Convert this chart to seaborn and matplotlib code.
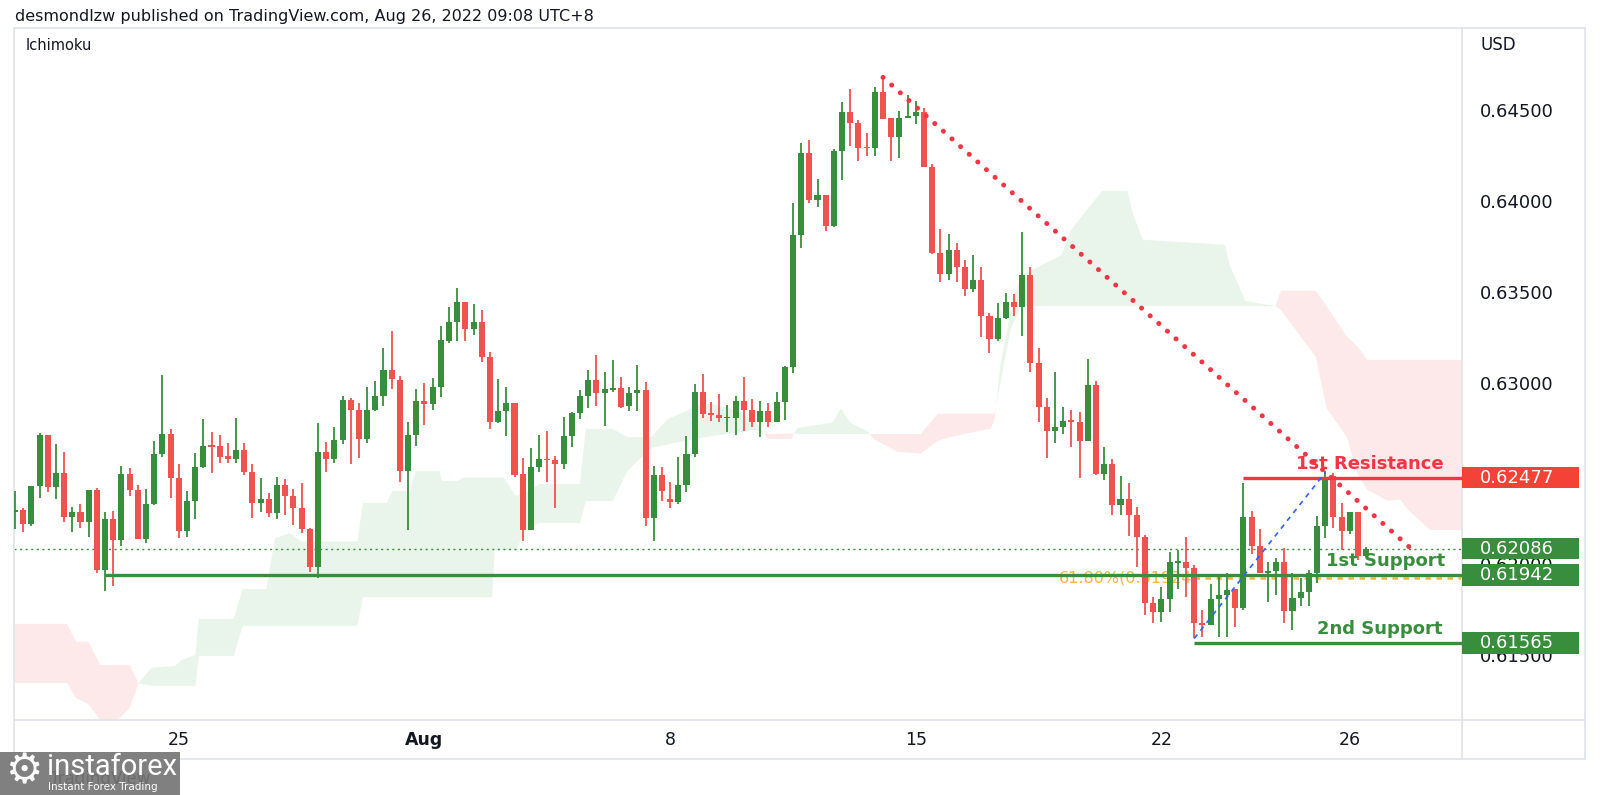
import numpy as np
import pandas as pd
import matplotlib
matplotlib.use("Agg")
import matplotlib.pyplot as plt
import matplotlib.transforms as mtransforms
from matplotlib.patches import Rectangle
from matplotlib.lines import Line2D
import seaborn as sns

sns.set_theme(style="white")
plt.rcParams['font.family'] = ['DejaVu Sans']

# ---------------- data (4H candles, AUDUSD-like) ----------------
opens = [0.62290, 0.62296, 0.62219, 0.62430, 0.62709, 0.62423, 0.62504, 0.62261, 0.62285, 0.62234,
         0.62406, 0.61966, 0.62247, 0.62135, 0.62498, 0.62406, 0.62140, 0.62331, 0.62606, 0.62715,
         0.62472, 0.62184, 0.62348, 0.62537, 0.62652, 0.62651, 0.62594, 0.62579, 0.62628, 0.62509,
         0.62335, 0.62359, 0.62283, 0.62436, 0.62377, 0.62311, 0.62192, 0.61986, 0.62619, 0.62577,
         0.62684, 0.62904, 0.62849, 0.62689, 0.62849, 0.62926, 0.63069, 0.63014, 0.62513, 0.62711,
         0.62898, 0.62882, 0.62977, 0.63229, 0.63333, 0.63445, 0.63293, 0.63333, 0.63139, 0.62781,
         0.62845, 0.62889, 0.62495, 0.62188, 0.62537, 0.62579, 0.62574, 0.62554, 0.62706, 0.62833,
         0.62926, 0.63014, 0.62944, 0.62961, 0.62968, 0.62871, 0.62941, 0.62959, 0.62253, 0.62491,
         0.62359, 0.62344, 0.62436, 0.62606, 0.62946, 0.62830, 0.62819, 0.62805, 0.62807, 0.62898,
         0.62849, 0.62785, 0.62845, 0.62785, 0.62893, 0.63087, 0.63812, 0.64266, 0.64005, 0.64036,
         0.63864, 0.64275, 0.64488, 0.64431, 0.64299, 0.64293, 0.64598, 0.64455, 0.64354, 0.64455,
         0.64468, 0.64490, 0.64189, 0.63715, 0.63596, 0.63733, 0.63638, 0.63515, 0.63565, 0.63366,
         0.63242, 0.63354, 0.63442, 0.63418, 0.63590, 0.63110, 0.62864, 0.62733, 0.62753, 0.62790,
         0.62785, 0.62680, 0.62987, 0.62497, 0.62552, 0.62326, 0.62357, 0.62271, 0.62148, 0.61788,
         0.61738, 0.61806, 0.62009, 0.62014, 0.61981, 0.61678, 0.61665, 0.61806, 0.61830, 0.61861,
         0.61760, 0.62261, 0.62100, 0.61949, 0.61960, 0.62014, 0.61742, 0.61812, 0.61848, 0.61949,
         0.62210, 0.62485, 0.62258, 0.62184, 0.62289, 0.62045]
highs = [0.62403, 0.62307, 0.62430, 0.62720, 0.62709, 0.62662, 0.62619, 0.62313, 0.62331, 0.62410,
         0.62417, 0.62285, 0.62293, 0.62539, 0.62529, 0.62434, 0.62412, 0.62678, 0.63042, 0.62743,
         0.62553, 0.62403, 0.62610, 0.62797, 0.62729, 0.62711, 0.62665, 0.62803, 0.62669, 0.62550,
         0.62472, 0.62394, 0.62478, 0.62467, 0.62414, 0.62449, 0.62197, 0.62779, 0.62674, 0.62753,
         0.62926, 0.62913, 0.62889, 0.62977, 0.63008, 0.63192, 0.63286, 0.63036, 0.62781, 0.62963,
         0.63000, 0.63027, 0.63311, 0.63418, 0.63520, 0.63445, 0.63431, 0.63399, 0.63170, 0.63019,
         0.62977, 0.62889, 0.62583, 0.62638, 0.62709, 0.62735, 0.62596, 0.62809, 0.62838, 0.62959,
         0.63069, 0.63150, 0.63058, 0.63125, 0.63029, 0.62978, 0.63097, 0.63001, 0.62541, 0.62537,
         0.62451, 0.62592, 0.62706, 0.62992, 0.63047, 0.62895, 0.62937, 0.62876, 0.62926, 0.63029,
         0.62909, 0.62898, 0.62889, 0.62950, 0.63093, 0.63987, 0.64317, 0.64336, 0.64119, 0.64036,
         0.64284, 0.64543, 0.64615, 0.64449, 0.64376, 0.64626, 0.64681, 0.64455, 0.64497, 0.64583,
         0.64552, 0.64515, 0.64202, 0.63844, 0.63818, 0.63770, 0.63675, 0.63702, 0.63638, 0.63381,
         0.63436, 0.63491, 0.63488, 0.63827, 0.63638, 0.63189, 0.62917, 0.63056, 0.62864, 0.62849,
         0.62840, 0.63128, 0.63010, 0.62647, 0.62578, 0.62486, 0.62445, 0.62317, 0.62160, 0.61821,
         0.61872, 0.62068, 0.62077, 0.62151, 0.61995, 0.61747, 0.61891, 0.61940, 0.61949, 0.61861,
         0.62449, 0.62293, 0.62192, 0.62014, 0.62032, 0.62087, 0.61949, 0.61922, 0.61968, 0.62265,
         0.62515, 0.62500, 0.62335, 0.62289, 0.62289, 0.62093]
lows = [0.62194, 0.62179, 0.62212, 0.62366, 0.62395, 0.62359, 0.62234, 0.62175, 0.62201, 0.62151,
        0.61950, 0.61854, 0.61880, 0.62102, 0.62373, 0.62137, 0.62118, 0.62324, 0.62592, 0.62366,
        0.62147, 0.62151, 0.62247, 0.62528, 0.62500, 0.62559, 0.62559, 0.62559, 0.62494, 0.62252,
        0.62285, 0.62258, 0.62247, 0.62271, 0.62216, 0.62170, 0.61959, 0.61922, 0.62509, 0.62559,
        0.62660, 0.62550, 0.62583, 0.62669, 0.62843, 0.62871, 0.62963, 0.62454, 0.62188, 0.62652,
        0.62765, 0.62849, 0.62922, 0.63220, 0.63229, 0.63229, 0.63262, 0.63111, 0.62742, 0.62775,
        0.62707, 0.62480, 0.62130, 0.62188, 0.62510, 0.62451, 0.62312, 0.62524, 0.62647, 0.62798,
        0.62858, 0.62871, 0.62761, 0.62950, 0.62862, 0.62844, 0.62844, 0.62212, 0.62130, 0.62348,
        0.62308, 0.62331, 0.62400, 0.62590, 0.62803, 0.62790, 0.62785, 0.62729, 0.62711, 0.62735,
        0.62757, 0.62702, 0.62755, 0.62785, 0.62794, 0.63051, 0.63739, 0.63991, 0.63968, 0.63836,
        0.63855, 0.64115, 0.64302, 0.64222, 0.64247, 0.64247, 0.64451, 0.64222, 0.64238, 0.64455,
        0.64427, 0.64189, 0.63706, 0.63555, 0.63565, 0.63555, 0.63478, 0.63500, 0.63253, 0.63165,
        0.63229, 0.63348, 0.63366, 0.63258, 0.63060, 0.62785, 0.62586, 0.62669, 0.62715, 0.62647,
        0.62476, 0.62680, 0.62491, 0.62463, 0.62271, 0.62271, 0.62155, 0.61985, 0.61720, 0.61674,
        0.61683, 0.61738, 0.61866, 0.61821, 0.61591, 0.61601, 0.61665, 0.61601, 0.61601, 0.61656,
        0.61747, 0.62054, 0.61949, 0.61793, 0.61830, 0.61674, 0.61637, 0.61771, 0.61771, 0.61894,
        0.62142, 0.62197, 0.62078, 0.62164, 0.62023, 0.62041]
closes = [0.62300, 0.62223, 0.62430, 0.62709, 0.62423, 0.62504, 0.62261, 0.62285, 0.62234, 0.62406,
          0.61966, 0.62247, 0.62135, 0.62498, 0.62406, 0.62140, 0.62331, 0.62606, 0.62715, 0.62472,
          0.62184, 0.62348, 0.62537, 0.62651, 0.62647, 0.62592, 0.62579, 0.62628, 0.62509, 0.62338,
          0.62359, 0.62283, 0.62436, 0.62377, 0.62311, 0.62192, 0.61986, 0.62619, 0.62577, 0.62684,
          0.62904, 0.62849, 0.62689, 0.62849, 0.62926, 0.63069, 0.63018, 0.62513, 0.62711, 0.62898,
          0.62882, 0.62977, 0.63234, 0.63333, 0.63445, 0.63293, 0.63333, 0.63139, 0.62781, 0.62845,
          0.62889, 0.62494, 0.62188, 0.62537, 0.62578, 0.62574, 0.62554, 0.62706, 0.62833, 0.62926,
          0.63014, 0.62944, 0.62965, 0.62968, 0.62867, 0.62941, 0.62959, 0.62253, 0.62491, 0.62403,
          0.62344, 0.62436, 0.62606, 0.62946, 0.62825, 0.62819, 0.62807, 0.62810, 0.62898, 0.62849,
          0.62785, 0.62845, 0.62785, 0.62893, 0.63087, 0.63812, 0.64266, 0.64005, 0.64036, 0.63864,
          0.64275, 0.64488, 0.64431, 0.64293, 0.64293, 0.64598, 0.64451, 0.64354, 0.64455, 0.64468,
          0.64490, 0.64189, 0.63715, 0.63596, 0.63733, 0.63638, 0.63515, 0.63565, 0.63366, 0.63242,
          0.63354, 0.63442, 0.63418, 0.63590, 0.63110, 0.62864, 0.62733, 0.62753, 0.62788, 0.62785,
          0.62680, 0.62987, 0.62497, 0.62552, 0.62326, 0.62357, 0.62271, 0.62148, 0.61788, 0.61738,
          0.61806, 0.62013, 0.62019, 0.61981, 0.61674, 0.61665, 0.61806, 0.61830, 0.61858, 0.61760,
          0.62261, 0.62100, 0.61949, 0.61965, 0.62014, 0.61742, 0.61812, 0.61848, 0.61949, 0.62210,
          0.62478, 0.62258, 0.62184, 0.62289, 0.62045, 0.62086]

# Ichimoku cloud (leading spans A and B)
cloud_x = [0, 6.35, 7.45, 8.94, 10.43, 11.62, 14.0, 15.09, 16.68, 19.56, 20.35, 22.04, 22.44, 26.71,
           27.8, 30.68, 31.77, 33.56, 34.95, 41.8, 42.5, 45.38, 46.07, 48.26, 48.95, 51.83, 52.13,
           54.01, 54.71, 58.28, 58.58, 59.67, 61.16, 62.55, 64.04, 69.0, 69.7, 72.98, 74.77, 77.65,
           79.73, 84.2, 87.38, 90.36, 91.94, 94.82, 95.52, 99.79, 100.88, 101.97, 104.16, 104.85,
           107.73, 110.61, 112.7, 114.19, 119.15, 119.64, 120.34, 121.63, 122.82, 127.79, 128.98,
           131.46, 132.75, 135.83, 136.53, 137.72, 147.75, 148.34, 150.23, 153.9, 154.6, 158.86,
           160.16, 162.64, 163.93, 165.12, 167.6, 169.2, 170.1, 172.8, 176.8]
span_a = [0.61346, 0.61346, 0.61263, 0.61230, 0.61142, 0.61100, 0.61208, 0.61344, 0.61430, 0.61440,
          0.61473, 0.61500, 0.61698, 0.61698, 0.61863, 0.61863, 0.62144, 0.62171, 0.62125, 0.62125,
          0.62337, 0.62337, 0.62403, 0.62403, 0.62513, 0.62513, 0.62458, 0.62458, 0.62477, 0.62477,
          0.62477, 0.62477, 0.62376, 0.62400, 0.62442, 0.62442, 0.62745, 0.62745, 0.62700, 0.62700,
          0.62800, 0.62888, 0.62860, 0.62790, 0.62690, 0.62690, 0.62750, 0.62780, 0.62857, 0.62780,
          0.62730, 0.62690, 0.62620, 0.62610, 0.62680, 0.62700, 0.62747, 0.62800, 0.63100, 0.63400,
          0.63590, 0.63702, 0.63843, 0.63983, 0.64056, 0.64056, 0.63927, 0.63787, 0.63759, 0.63646,
          0.63450, 0.63421, 0.63400, 0.63140, 0.62860, 0.62700, 0.62500, 0.62410, 0.62350, 0.62355,
          0.62300, 0.62189, 0.62189]
span_b = [0.61671, 0.61671, 0.61573, 0.61573, 0.61445, 0.61445, 0.61445, 0.61344, 0.61330, 0.61330,
          0.61330, 0.61330, 0.61495, 0.61495, 0.61661, 0.61661, 0.61661, 0.61661, 0.61661, 0.61661,
          0.61818, 0.61818, 0.61818, 0.61818, 0.61818, 0.61818, 0.61818, 0.61818, 0.61818, 0.61818,
          0.62078, 0.62078, 0.62078, 0.62199, 0.62227, 0.62227, 0.62348, 0.62348, 0.62513, 0.62640,
          0.62660, 0.62700, 0.62720, 0.62740, 0.62717, 0.62720, 0.62717, 0.62717, 0.62717, 0.62717,
          0.62717, 0.62717, 0.62717, 0.62717, 0.62829, 0.62829, 0.62829, 0.62829, 0.63000, 0.63300,
          0.63421, 0.63421, 0.63421, 0.63421, 0.63421, 0.63421, 0.63421, 0.63421, 0.63421, 0.63421,
          0.63421, 0.63421, 0.63506, 0.63506, 0.63421, 0.63253, 0.63200, 0.63125, 0.63125, 0.63125,
          0.63125, 0.63125, 0.63125]

date_pos = [20, 50, 80, 110, 140, 163]
date_labels = ["25", "Aug", "8", "15", "22", "26"]
price_ticks = [0.615, 0.620, 0.625, 0.630, 0.635, 0.640, 0.645]

last_price = 0.62086
resistance_1 = 0.62477
support_1 = 0.61942
support_2 = 0.61565
fib_level = 0.61924
trend_x = [106, 170.7]
trend_y = [0.64681, 0.62077]
fib_x = [144, 160]
fib_y = [0.61591, 0.62505]

# ---------------- styling ----------------
GREEN = "#388e3c"
RED = "#ef5350"
LINE_RED = "#f23645"
ORANGE = "#f5b53d"
BORDER = "#e0e3eb"
TXT = "#131722"

W, H = 1600, 795
def fx(px):
    return px / W
def fy(py):
    return 1 - py / H

fig = plt.figure(figsize=(16, 7.95), dpi=100)
fig.patch.set_facecolor("white")
ax = fig.add_axes([fx(14), fy(720), fx(1462) - fx(14), fy(28) - fy(720)])
ax.set_facecolor("white")

df = pd.DataFrame({"o": opens, "h": highs, "l": lows, "c": closes})
df["i"] = np.arange(len(df))
df["up"] = df["c"] >= df["o"]
cols = np.where(df["up"], GREEN, RED)

# cloud
a = np.array(span_a)
b = np.array(span_b)
ax.fill_between(cloud_x, a, b, where=a >= b, interpolate=True, color="#e9f5ea", lw=0, zorder=1)
ax.fill_between(cloud_x, a, b, where=a < b, interpolate=True, color="#fde9e9", lw=0, zorder=1)

# last price dotted line
ax.axhline(last_price, color=GREEN, lw=1.0, ls=(0, (1.5, 2.5)), zorder=2)

# fib level and label (under candles)
ax.hlines(fib_level, 144, 176.7, color=ORANGE, lw=1.8, ls=(0, (2.2, 2.2)), zorder=2.4)
ax.text(144.5, fib_level, "61.80%(0.61924)", color=ORANGE, fontsize=11.5, ha="right", va="center",
        zorder=2.5)

# candles
body_lo = np.minimum(df["o"], df["c"])
body_h = np.maximum((df["c"] - df["o"]).abs(), 0.00007)
ax.vlines(df["i"], df["l"], df["h"], colors=cols, lw=1.3, zorder=3)
ax.bar(df["i"], body_h, bottom=body_lo, width=0.74, color=cols, linewidth=0, zorder=3.1)

# horizontal levels
ax.hlines(support_1, 10.95, 176.7, color=GREEN, lw=2.4, zorder=4)
ax.hlines(support_2, 144, 176.7, color=GREEN, lw=2.4, zorder=4)
ax.hlines(resistance_1, 150, 176.7, color=LINE_RED, lw=2.4, zorder=4)

# trend lines
sns.lineplot(x=trend_x, y=trend_y, ax=ax, color=LINE_RED, lw=3.6,
             linestyle=(0, (0.01, 2.3)), dash_capstyle="round", zorder=4.5)
sns.lineplot(x=fib_x, y=fib_y, ax=ax, color="#2962ff", lw=1.2,
             linestyle=(0, (3, 3)), zorder=4.5)

# level labels
ax.text(165.4, 0.62552, "1st Resistance", color=LINE_RED, fontsize=13, fontweight="bold",
        ha="center", va="center", zorder=6)
ax.text(167.4, 0.62015, "1st Support", color=GREEN, fontsize=13, fontweight="bold",
        ha="center", va="center", zorder=6)
ax.text(166.7, 0.61645, "2nd Support", color=GREEN, fontsize=13, fontweight="bold",
        ha="center", va="center", zorder=6)

# axes limits / ticks
ax.set_xlim(-0.12, 176.7)
ax.set_ylim(0.61142, 0.64953)
ax.set_xlabel("")
ax.set_ylabel("")
ax.yaxis.tick_right()
ax.set_yticks(price_ticks)
ax.set_yticklabels([f"{v:.5f}" for v in price_ticks])
ax.tick_params(axis="y", length=0, pad=13, labelsize=13, labelcolor=TXT)
ax.set_xticks(date_pos)
ax.set_xticklabels(date_labels)
ax.tick_params(axis="x", length=0, pad=8, labelsize=12.5, labelcolor=TXT)
for lab in ax.get_xticklabels():
    if lab.get_text() == "Aug":
        lab.set_fontweight("bold")
for s in ax.spines.values():
    s.set_color(BORDER)
    s.set_linewidth(1.2)
ax.grid(False)

# price tags on right axis
tag_prices = [resistance_1, last_price, support_1, support_2]
tag_colors = ["#f44336", GREEN, GREEN, GREEN]
trans = mtransforms.blended_transform_factory(ax.transAxes, ax.transData)
hh = 0.00120
for p, c in zip(tag_prices, tag_colors):
    ax.add_patch(Rectangle((1.0, p - hh / 2), 0.0808, hh, transform=trans, clip_on=False,
                           facecolor=c, edgecolor="none", zorder=6))
    ax.text(1.012, p, f"{p:.5f}", transform=trans, color="white", fontsize=13,
            ha="left", va="center", clip_on=False, zorder=7)

# outer frame lines
def fline(x0, y0, x1, y1):
    fig.add_artist(Line2D([fx(x0), fx(x1)], [fy(y0), fy(y1)], transform=fig.transFigure,
                          color=BORDER, lw=1.2))
fline(1462, 28, 1585, 28)
fline(1585, 28, 1585, 759)
fline(14, 759, 1585, 759)
fline(14, 720, 14, 759)
fline(1462, 720, 1462, 759)
fline(1462, 720, 1585, 720)

# header texts
fig.text(fx(15), fy(17), "desmondlzw published on TradingView.com, Aug 26, 2022 09:08 UTC+8",
         fontsize=11.5, color=TXT, ha="left", va="center")
fig.text(fx(26), fy(45), "Ichimoku", fontsize=10.5, color=TXT, ha="left", va="center")
fig.text(fx(1480), fy(45), "USD", fontsize=12, color=TXT, ha="left", va="center")

# watermark logo
fig.add_artist(Rectangle((0, 0), fx(180), fy(752), transform=fig.transFigure,
                         facecolor="#808080", edgecolor="none", zorder=10))
fig.text(fx(50), fy(779), "TradingView", fontsize=12, color="#5a5a5a", ha="left", va="center",
         zorder=11, alpha=0.5)
fig.text(fx(24), fy(771), "\u2699", fontsize=30, color="white", ha="center", va="center", zorder=12)
fig.text(fx(47), fy(767), "instaforex", fontsize=21, color="white", ha="left", va="center",
         zorder=12, family=["Roboto", "DejaVu Sans"])
fig.text(fx(48), fy(787), "Instant Forex Trading", fontsize=7.5, color="white", ha="left",
         va="center", zorder=12)

fig.savefig("out.png", dpi=100, facecolor="white")
